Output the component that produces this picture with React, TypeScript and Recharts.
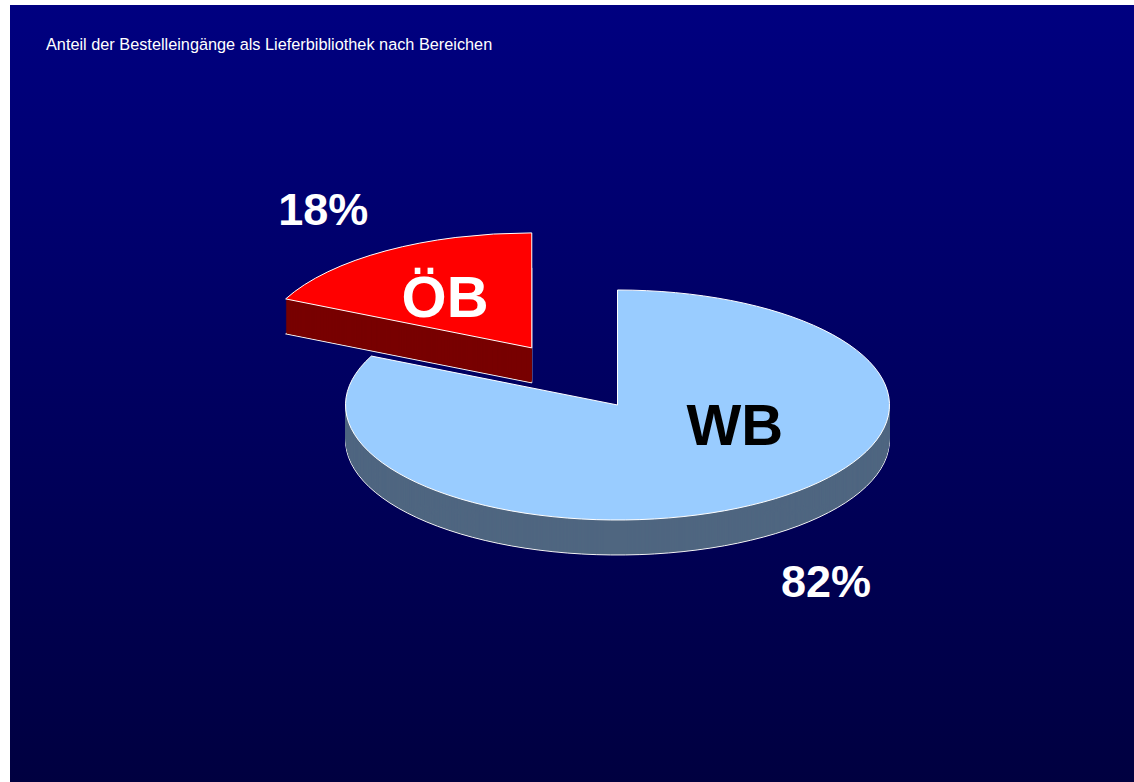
import React from "react";
import { PieChart, Pie, Cell } from "recharts";

const TITLE = "Anteil der Bestelleingänge als Lieferbibliothek nach Bereichen";
const CATEGORIES = ["ÖB", "WB"];
const SHARES = [18, 82];
const TOP_COLORS = ["#ff0000", "#99ccff"];
const SIDE_COLORS = ["#780000", "#4f6680"];
const NAME_COLORS = ["#ffffff", "#000000"];

const data = CATEGORIES.map((name, i) => ({ name, value: SHARES[i] }));
const total = SHARES.reduce((a, b) => a + b, 0);

// tilted pie geometry (screen px)
const RX = 272;
const RY = 115;
const K = RY / RX;
const DEPTH = 35;
const CX = 617.5;
const CY = 405;
const START = 90;
const EXPLODE = 160; // how far ÖB is pulled out along its mid angle
const EXPLODED = 0;
const FONT = "'Liberation Sans', Arial, sans-serif";

// label placement: percent outside, name inside (angle nudge in deg, radius ratio)
const PCT_R = 1.43;
const NAME_PLACE = [
  { shift: 3, r: 0.55 },
  { shift: 36, r: 0.464 },
];

const rad = Math.PI / 180;

function sliceCenter(i: number) {
  if (i !== EXPLODED) return { cx: CX, cy: CY / K };
  const before = SHARES.slice(0, i).reduce((a, b) => a + b, 0);
  const mid = START + (360 * (before + SHARES[i] / 2)) / total;
  return {
    cx: CX + EXPLODE * Math.cos(mid * rad),
    cy: CY / K - EXPLODE * Math.sin(mid * rad),
  };
}

// labels are drawn outside the squashed layer, so map to screen y here
function makeLabel(owner: number) {
  return (p: any) => {
    if (p.index !== owner) return null;
    const { cx, cy, midAngle, outerRadius, percent } = p;
    const at = (r: number, a: number) => ({
      x: cx + r * Math.cos(a * rad),
      y: cy - r * Math.sin(a * rad),
    });
    const pc = at(outerRadius * PCT_R, midAngle);
    const pcY = pc.y * K + (pc.y > cy ? DEPTH + 3 : 0);
    const np = at(outerRadius * NAME_PLACE[owner].r, midAngle + NAME_PLACE[owner].shift);
    return (
      <g>
        <text
          x={pc.x}
          y={pcY}
          textAnchor="middle"
          dominantBaseline="central"
          fill="#ffffff"
          fontFamily={FONT}
          fontWeight="bold"
          fontSize={45}
        >
          {`${Math.round(percent * 100)}%`}
        </text>
        <text
          x={np.x}
          y={np.y * K}
          textAnchor="middle"
          dominantBaseline="central"
          fill={NAME_COLORS[owner]}
          fontFamily={FONT}
          fontWeight="bold"
          fontSize={58}
        >
          {CATEGORIES[owner]}
        </text>
      </g>
    );
  };
}

// draw the slice that stays in place first, the pulled one on top
const ORDER = [1, 0];
const STEPS = Array.from({ length: DEPTH }, (_, j) => DEPTH - j);

export default function App() {
  const layers: React.ReactNode[] = [];
  ORDER.forEach((i) => {
    const c = sliceCenter(i);
    STEPS.forEach((d) => {
      layers.push(
        <Pie
          key={`side-${i}-${d}`}
          data={data}
          dataKey="value"
          nameKey="name"
          cx={c.cx}
          cy={c.cy + d / K}
          outerRadius={RX}
          startAngle={START}
          endAngle={START + 360}
          isAnimationActive={false}
          label={false}
          labelLine={false}
        >
          {data.map((_, j) => (
            <Cell
              key={j}
              fill={j === i ? SIDE_COLORS[j] : "none"}
              stroke={j === i && d === DEPTH ? "#f4f4f4" : "none"}
              strokeWidth={1}
            />
          ))}
        </Pie>
      );
    });
    layers.push(
      <Pie
        key={`top-${i}`}
        data={data}
        dataKey="value"
        nameKey="name"
        cx={c.cx}
        cy={c.cy}
        outerRadius={RX}
        startAngle={START}
        endAngle={START + 360}
        isAnimationActive={false}
        label={makeLabel(i)}
        labelLine={false}
      >
        {data.map((_, j) => (
          <Cell
            key={j}
            fill={j === i ? TOP_COLORS[j] : "none"}
            stroke={j === i ? "#ffffff" : "none"}
            strokeWidth={1}
          />
        ))}
      </Pie>
    );
  });

  return (
    <div
      className="pie3d"
      style={{
        position: "absolute",
        left: 0,
        top: 0,
        width: 1134,
        height: 782,
        overflow: "hidden",
      }}
    >
      <style>{`
        .pie3d .recharts-pie { transform: scaleY(${K}); transform-origin: 0 0; }
        .pie3d .recharts-sector { vector-effect: non-scaling-stroke; }
      `}</style>
      {/* backdrop */}
      <div
        style={{
          position: "absolute",
          left: 10,
          top: 5,
          width: 1124,
          height: 777,
          background: "linear-gradient(to bottom, #000080 0%, #000040 100%)",
        }}
      />
      <div
        style={{
          position: "absolute",
          left: 46,
          top: 35,
          color: "#ffffff",
          fontFamily: FONT,
          fontSize: 16.3,
          whiteSpace: "nowrap",
        }}
      >
        {TITLE}
      </div>
      <div style={{ position: "absolute", left: 0, top: 0 }}>
        <PieChart width={1134} height={1400} margin={{ top: 0, right: 0, bottom: 0, left: 0 }}>
          {layers}
        </PieChart>
      </div>
    </div>
  );
}
